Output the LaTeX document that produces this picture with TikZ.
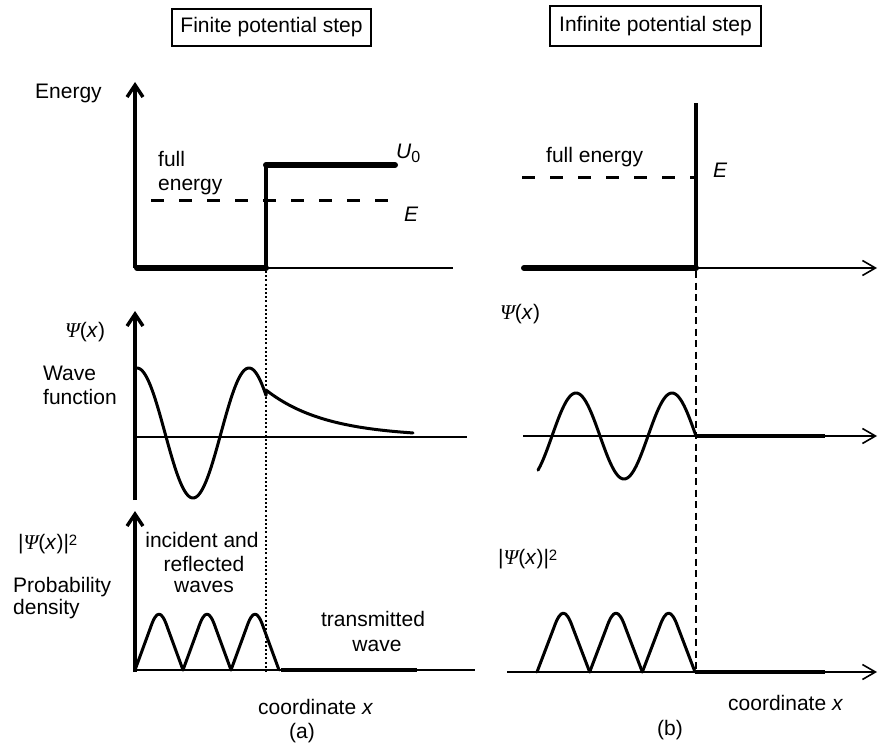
\documentclass[tikz,border=0pt]{standalone}
\usepackage{fontspec}
\setmainfont{Liberation Sans}
\newfontfamily\greekserif{Liberation Serif}
\usetikzlibrary{arrows.meta}
\newcommand{\Psix}{{\greekserif\itshape Ψ}(\textit{x})}
\newcommand{\sqsup}{\raisebox{4pt}{\fontsize{15}{15}\selectfont 2}}
\tikzset{
  lbl/.style={inner sep=0pt, font=\fontsize{21}{24}\selectfont},
  titlebox/.style={draw, line width=1.3pt, inner sep=0pt, font=\fontsize{21}{24}\selectfont},
  thinaxis/.style={line width=1.6pt},
  vaxis/.style={line width=3.4pt, -{Straight Barb[length=12pt,width=16pt]}},
  haxis/.style={line width=1.6pt, -{Straight Barb[length=13pt,width=15pt]}},
  potthick/.style={line width=6pt, line cap=round},
  potstep/.style={line width=3.5pt},
  wave/.style={line width=3pt, line join=round, line cap=round},
  flatline/.style={line width=4pt},
  elevel/.style={line width=3pt, dash pattern=on 13pt off 15pt},
  dotv/.style={line width=1.1pt, dash pattern=on 2pt off 2.2pt},
  dashv/.style={line width=1.7pt, dash pattern=on 7pt off 4.5pt},
}
% hump: #1 = start x, #2 = period, #3 = base y, #4 = height
\newcommand{\hump}[4]{%
  \draw[wave] (#1,#3) -- ({#1+0.32*#2},{#3-0.75*#4})
    .. controls ({#1+0.45*#2},{#3-1.08*#4}) and ({#1+0.55*#2},{#3-1.08*#4}) ..
    ({#1+0.68*#2},{#3-0.75*#4}) -- ({#1+#2},#3);}
\begin{document}
\begin{tikzpicture}[x=1pt,y=-1pt]
\useasboundingbox[fill=white] (0,0) rectangle (878,749);

% ---------- titles ----------
\node[titlebox, minimum width=199pt, minimum height=37pt] (titleA) at (271.5,27.5) {Finite potential step};
\node[titlebox, minimum width=211pt, minimum height=40pt] (titleB) at (655.5,26) {Infinite potential step};

% ---------- coordinates ----------
\coordinate (oA1) at (135,268);
\coordinate (tA1) at (135,82);
\coordinate (eA1) at (453,268);
\coordinate (oA2) at (135,500);
\coordinate (tA2) at (135,311);
\coordinate (eA2) at (467,437);
\coordinate (sA2) at (135,437);
\coordinate (oA3) at (135,672);
\coordinate (tA3) at (135,511);
\coordinate (eA3) at (475,670);
\coordinate (sA3) at (135,670);

% ---------- (a) energy panel ----------
\draw[thinaxis] (oA1) -- (eA1);
\draw[elevel] (151,200) coordinate (eLa) -- (390,200) coordinate (eLb);
\draw[potthick] (137,268) -- (266,268);
\draw[potstep] (266,270) -- (266,165);
\draw[potthick] (266,165) -- (395,165);
\draw[vaxis] (oA1) -- (tA1);
\draw[dotv] (266,271) coordinate (dA1) -- (266,672) coordinate (dA2);

\node[lbl, anchor=base west] (energyA) at (35,99) {Energy};
\node[lbl, anchor=base west] (fullA1) at (158,166) {full};
\node[lbl, anchor=base west] (fullA2) at (158,190) {energy};
\node[lbl, anchor=base west] (UA) at (396,159) {\textit{U}\raisebox{-3pt}{\fontsize{16}{16}\selectfont 0}};
\node[lbl, anchor=base west] (EA) at (404,221) {\textit{E}};

% ---------- (a) wave-function panel ----------
\draw[thinaxis] (sA2) -- (eA2);
\draw[wave] plot[domain=137:266, samples=120] (\x, {433-65*cos((\x-137)/112*360)})
  -- plot[domain=266:413, samples=80] (\x, {437-47*exp(-(\x-266)/60)});
\draw[vaxis] (oA2) -- (tA2);
\node[lbl, anchor=base west] (psiA) at (65,337) {\Psix};
\node[lbl, anchor=base west] (waveA1) at (43,380) {Wave};
\node[lbl, anchor=base west] (waveA2) at (43,404) {function};

% ---------- (a) probability panel ----------
\draw[thinaxis] (sA3) -- (eA3);
\foreach \k in {0,1,2} {\hump{135+48*\k}{48}{670}{56}}
\draw[flatline] (281,670) -- (417,670);
\draw[vaxis] (oA3) -- (tA3);
\node[lbl, anchor=base west] (psi2A) at (18,549) {|\Psix|\sqsup};
\node[lbl, anchor=base west] (probA1) at (13,592) {Probability};
\node[lbl, anchor=base west] (probA2) at (13,614) {density};
\node[lbl, anchor=base] (incA1) at (202,547) {incident and};
\node[lbl, anchor=base] (incA2) at (204,571) {reflected};
\node[lbl, anchor=base] (incA3) at (204,592) {waves};
\node[lbl, anchor=base] (trA1) at (373,626) {transmitted};
\node[lbl, anchor=base] (trA2) at (377,651) {wave};
\node[lbl, anchor=base west] (coordA) at (258,714) {coordinate \textit{x}};
\node[lbl, anchor=base] (capA) at (302,738) {(a)};

% ---------- (b) energy panel ----------
\coordinate (oB1) at (696,268);
\coordinate (tB1) at (877,268);
\draw[haxis] (oB1) -- (tB1);
\draw[potthick] (524,268) -- (696,268);
\draw[potstep] (696,270) -- (696,103);
\draw[elevel] (522,177) coordinate (eLc) -- (696,177) coordinate (eLd);
\draw[dashv] (696,271) coordinate (dB1) -- (696,672) coordinate (dB2);
\node[lbl, anchor=base west] (fullB) at (546,163) {full energy};
\node[lbl, anchor=base west] (EB) at (713,178) {\textit{E}};

% ---------- (b) wave-function panel ----------
\coordinate (sB2) at (523,436);
\coordinate (tB2) at (877,436);
\draw[haxis] (sB2) -- (tB2);
\draw[wave] plot[domain=538:696, samples=160] (\x, {436+43*sin((\x-696)/96*360)});
\draw[flatline] (696,436) -- (825,436);
\node[lbl, anchor=base west] (psiB) at (500,319) {\Psix};

% ---------- (b) probability panel ----------
\coordinate (sB3) at (507,672);
\coordinate (tB3) at (877,672);
\draw[haxis] (sB3) -- (tB3);
\foreach \k in {0,1,2} {\hump{537+52.667*\k}{52.667}{672}{59}}
\draw[flatline] (695,672) -- (825,672);
\node[lbl, anchor=base west] (psi2B) at (498,564) {|\Psix|\sqsup};
\node[lbl, anchor=base west] (coordB) at (728,710) {coordinate \textit{x}};
\node[lbl, anchor=base] (capB) at (670,735) {(b)};
\end{tikzpicture}
\end{document}
